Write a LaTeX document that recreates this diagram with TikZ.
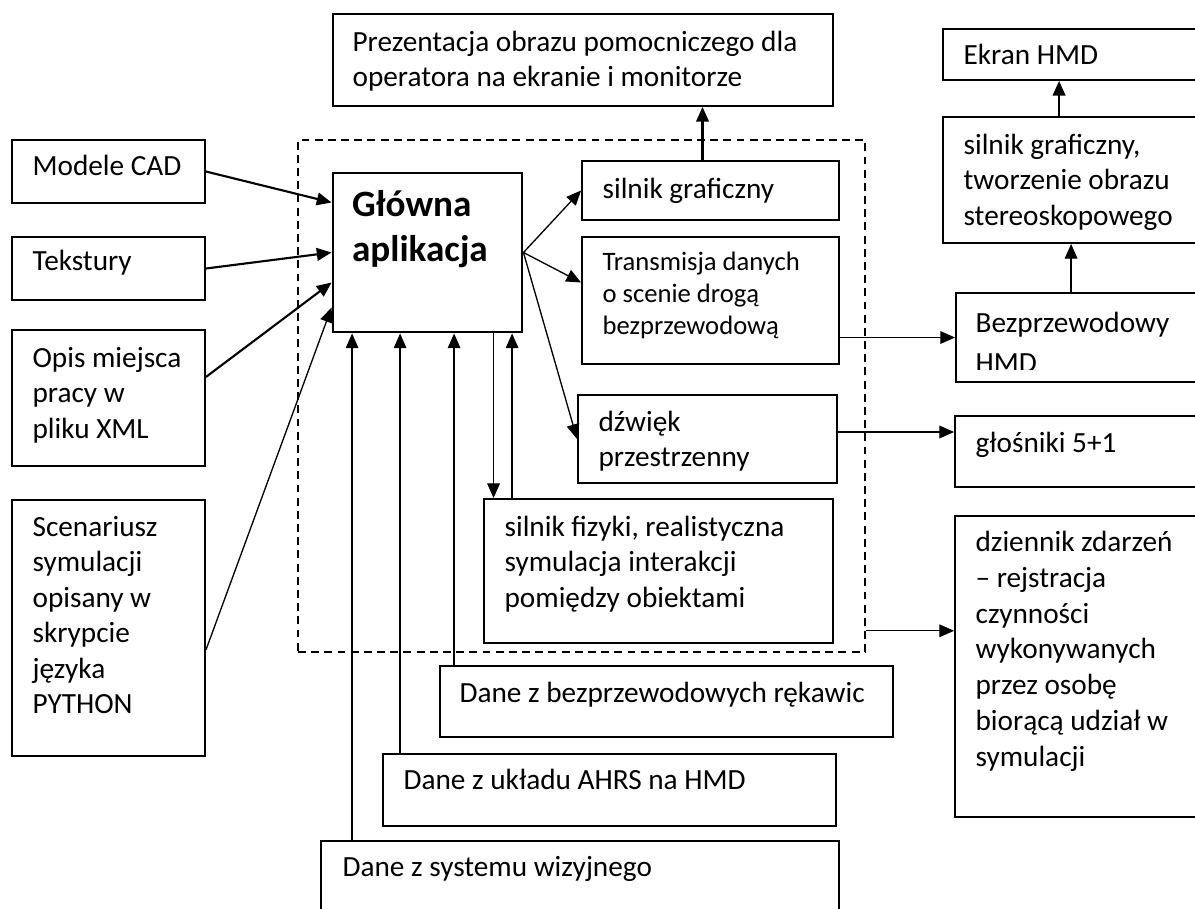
\documentclass[tikz,border=0pt]{standalone}
\usepackage{fontspec}
\setmainfont{Carlito}
\usetikzlibrary{arrows.meta, calc, fit}

\tikzset{
  box/.style={draw, line width=0.7pt, inner sep=0pt},
  txt/.style={anchor=base west, align=left, inner sep=0pt, font=\fontsize{11.1}{13.47}\selectfont},
  arr/.style={line width=0.5pt, -{Triangle[length=5.6pt, width=4.8pt]}},
  arrthick/.style={arr, line width=0.8pt},
}

\begin{document}
\begin{tikzpicture}[x=0.3793pt, y=-0.3793pt]
  \useasboundingbox (0,0) rectangle (1195,908);
  \fill[white] (0,0) rectangle (1195,908);
  \clip (0,0) rectangle (1195,908);

  % Dashed frame round the main application
  \node[box, line width=0.6pt, dash pattern=on 3pt off 2pt, fit={(298,140) (865,652)}] (core) {};

  % Inputs on the left (text anchored at the baseline of its last line)
  \node[box, fit={(12,140) (205,203)}] (cad) {};
  \node[txt] (cadtxt) at ($(cad.north west)+(21,36)$) {Modele CAD};
  \node[box, fit={(12,237) (205,300)}] (tex) {};
  \node[txt] (textxt) at ($(tex.north west)+(21,34)$) {Tekstury};
  \node[box, fit={(12,330) (205,466)}] (opis) {};
  \node[txt] (opistxt) at ($(opis.north west)+(21,109)$) {Opis miejsca\\pracy w\\pliku XML};
  \node[box, fit={(12,500) (205,756)}] (scen) {};
  \node[txt] (scentxt) at ($(scen.north west)+(21,214.5)$) {Scenariusz\\symulacji\\opisany w\\skrypcie\\języka\\PYTHON};

  % Main application
  \node[box, line width=1.1pt, fit={(333,173) (522,332)}] (glowna) {};
  \node[txt, font=\fontsize{14.1}{17.07}\selectfont\bfseries] (glownatxt) at ($(glowna.north west)+(20,90)$) {Główna\\aplikacja};

  % Modules inside the frame
  \node[box, fit={(582,161) (839,220)}] (sgraf) {};
  \node[txt] (sgraftxt) at ($(sgraf.north west)+(21,38)$) {silnik graficzny};
  \node[box, fit={(582,237) (839,364)}] (trans) {};
  \node[txt, font=\fontsize{10.1}{12.14}\selectfont] (transtxt) at ($(trans.north west)+(21,98)$) {Transmisja danych\\o scenie drogą\\bezprzewodową};
  \node[box, fit={(578,395) (837,483)}] (dzw) {};
  \node[txt] (dzwtxt) at ($(dzw.north west)+(21,72.5)$) {dźwięk\\przestrzenny};
  \node[box, fit={(484,499) (833,643)}] (fiz) {};
  \node[txt] (fiztxt) at ($(fiz.north west)+(21,109)$) {silnik fizyki, realistyczna\\symulacja interakcji\\pomiędzy obiektami};

  % Output on top
  \node[box, fit={(333,14) (833,106)}] (prez) {};
  \node[txt] (preztxt) at ($(prez.north west)+(20,73.5)$) {Prezentacja obrazu pomocniczego dla\\operatora na ekranie i monitorze};

  % Right column
  \node[box, fit={(943,29) (1210,80)}] (ekran) {};
  \node[txt] (ekrantxt) at ($(ekran.north west)+(21,36)$) {Ekran HMD};
  \node[box, fit={(943,117) (1210,243)}] (stereo) {};
  \node[txt] (stereotxt) at ($(stereo.north west)+(21,109)$) {silnik graficzny,\\tworzenie obrazu\\stereoskopowego};
  \node[box, fit={(956,293) (1210,382)}] (bezp) {};
  \begin{scope}
    \clip (bezp.north west) rectangle ($(bezp.south east)+(0,-13)$);
    \node[txt, font=\fontsize{11.1}{15.2}\selectfont] (bezptxt) at ($(bezp.north west)+(20,80)$) {Bezprzewodowy\\HMD};
  \end{scope}
  \node[box, fit={(955,416) (1210,487)}] (glos) {};
  \node[txt] (glostxt) at ($(glos.north west)+(21,37)$) {głośniki 5+1};
  \node[box, fit={(955,516) (1210,817)}] (dzien) {};
  \node[txt, font=\fontsize{11.1}{13.55}\selectfont] (dzientxt) at ($(dzien.north west)+(21,251)$) {dziennik zdarzeń\\– rejstracja\\czynności\\wykonywanych\\przez osobę\\biorącą udział w\\symulacji};

  % Data sources at the bottom
  \node[box, fit={(440,666) (893,737)}] (reka) {};
  \node[txt] (rekatxt) at ($(reka.north west)+(20,37)$) {Dane z bezprzewodowych rękawic};
  \node[box, fit={(383,754) (836,826)}] (ahrs) {};
  \node[txt] (ahrstxt) at ($(ahrs.north west)+(21,36)$) {Dane z układu AHRS na HMD};
  \node[box, fit={(321,841) (839,930)}] (wiz) {};
  \node[txt] (wiztxt) at ($(wiz.north west)+(22,36)$) {Dane z systemu wizyjnego};

  % Inputs -> main application
  \draw[arrthick] (cad.east) -- ($(glowna.west)+(0,-50)$);
  \draw[arrthick] (tex.east) -- (glowna.west);
  \draw[arrthick] ($(opis.east)+(0,-21)$) -- ($(glowna.west)+(0,30)$);
  \draw[arr] ($(scen.east)+(0,22)$) -- ($(glowna.west)+(0,55)$);

  % Main application -> modules
  \draw[arr] (glowna.east) -- (sgraf.west);
  \draw[arr] (glowna.east) -- ($(trans.west)+(0,-18)$);
  \draw[arr] (glowna.east) -- (dzw.west);
  \draw[arr] ($(glowna.south west)+(162,0)$) coordinate (gf) -- (gf |- fiz.north);
  \draw[arr] ($(fiz.north west)+(29,0)$) coordinate (fg) -- (fg |- glowna.south);

  % Modules -> outputs
  \draw[arrthick] ($(sgraf.north)+(-8,0)$) coordinate (sp) -- (sp |- prez.south);
  \draw[arr] (trans.east |- bezp.west) -- (bezp.west);
  \draw[arr] ($(dzw.east)+(0,-7)$) coordinate (dg) -- (dg -| glos.west);
  \draw[arr] ($(core.south east)+(0,-22)$) coordinate (cd) -- (cd -| dzien.west);
  \draw[arr] ($(bezp.north west)+(116,0)$) coordinate (bs) -- (bs |- stereo.south);
  \draw[arrthick] ($(stereo.north west)+(117,0)$) coordinate (se) -- (se |- ekran.south);

  % Data sources -> main application
  \draw[arr] ($(reka.north west)+(15,0)$) coordinate (rg) -- (rg |- glowna.south);
  \draw[arr] ($(ahrs.north west)+(18,0)$) coordinate (ag) -- (ag |- glowna.south);
  \draw[arr] ($(wiz.north west)+(32,0)$) coordinate (wg) -- (wg |- glowna.south);
\end{tikzpicture}
\end{document}
